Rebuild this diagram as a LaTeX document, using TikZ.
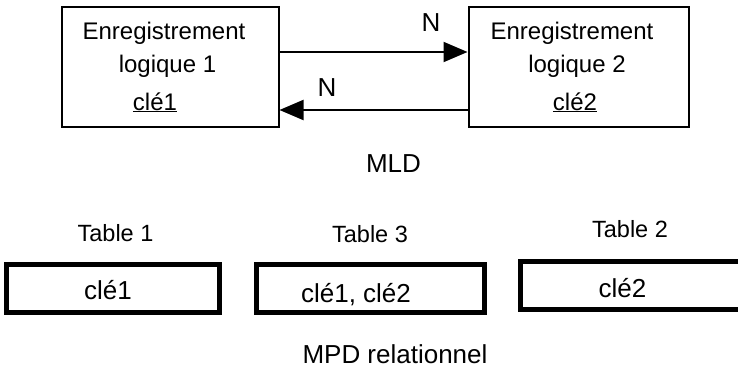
\documentclass[tikz,border=0pt]{standalone}
\usepackage{fontspec}
\setmainfont{Liberation Sans}
\usetikzlibrary{arrows.meta}
\begin{document}
\begin{tikzpicture}[x=1pt,y=-1pt,
  thinbox/.style={draw,line width=2pt,inner sep=0pt},
  thickbox/.style={draw,line width=5pt,inner sep=0pt},
  txt/.style={anchor=base,inner sep=0pt,font=\fontsize{24}{28}\selectfont},
  bigtxt/.style={anchor=base,inner sep=0pt,font=\fontsize{26}{30}\selectfont},
  tabtxt/.style={anchor=base,inner sep=0pt,font=\fontsize{23.5}{27}\selectfont},
  keytxt/.style={anchor=base,inner sep=0pt,font=\fontsize{26}{30}\selectfont},
  arr/.style={line width=2pt,-{Triangle[length=24pt,width=20pt]}}]
\useasboundingbox (0,0) rectangle (738,369);
% MLD
\node[thinbox,minimum width=217pt,minimum height=120pt] (b1) at (170,67) {};
\node[thinbox,minimum width=220pt,minimum height=120pt] (b2) at (578.5,67) {};
\node[txt] (e1) at (164,40) {Enregistrement};
\node[txt] (l1) at (167.5,72) {logique 1};
\node[txt] (k1) at (155,110) {\underline{clé1}};
\node[txt] (e2) at (572,40) {Enregistrement};
\node[txt] (l2) at (577,72) {logique 2};
\node[txt] (k2) at (575,110) {\underline{clé2}};
\coordinate (a1) at (0,52);
\coordinate (a2) at (0,110);
\draw[arr] (b1.east |- a1) -- (b2.west |- a1);
\draw[arr] (b2.west |- a2) -- (b1.east |- a2);
\node[bigtxt] (n1) at (431,32) {N};
\node[bigtxt] (n2) at (327,96) {N};
\node[bigtxt] (mld) at (393.5,172) {MLD};
% MPD
\node[tabtxt] (t1) at (115.5,241) {Table 1};
\node[tabtxt] (t3) at (370,242) {Table 3};
\node[tabtxt] (t2) at (630,237) {Table 2};
\node[thickbox,minimum width=213pt,minimum height=48pt] (p1) at (112.5,288) {};
\node[thickbox,minimum width=228pt,minimum height=48pt] (p3) at (370,288) {};
\node[thickbox,minimum width=222pt,minimum height=48pt] (p2) at (631,285) {};
\node[keytxt] (c1) at (108,299) {clé1};
\node[keytxt] (c3) at (356,302) {clé1, clé2};
\node[keytxt] (c2) at (622.5,297) {clé2};
\node[keytxt] (mpd) at (395,363) {MPD relationnel};
\end{tikzpicture}
\end{document}
